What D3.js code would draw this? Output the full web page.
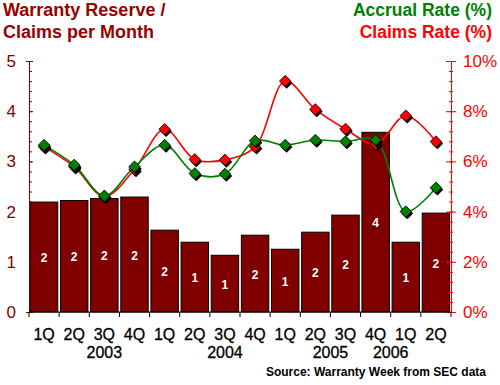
<!DOCTYPE html>
<html>
<head>
<meta charset="utf-8">
<script src="https://cdn.jsdelivr.net/npm/d3@7"></script>
<style>
    body { margin: 0; background: #fff; }
    svg { display: block; font-family: "Liberation Sans", Arial, sans-serif; }
</style>
</head>
<body>
<svg id="chart" width="500" height="385"></svg>
<script>
// data
const quarters= ["1Q","2Q","3Q","4Q","1Q","2Q","3Q","4Q","1Q","2Q","3Q","4Q","1Q","2Q"]
const years= ["2003","2004","2005","2006"]
const year_pos= [2.5, 6.5, 10, 12]   // where each year label sits, in category units
const reserve_months= [2.19, 2.22, 2.26, 2.29, 1.63, 1.39, 1.13, 1.53, 1.25, 1.59, 1.93, 3.58, 1.39, 1.97]
const accrual_rate= [6.65, 5.86, 4.63, 5.79, 6.65, 5.52, 5.50, 6.82, 6.65, 6.85, 6.79, 6.85, 4.00, 4.95]
const claims_rate= [6.58, 5.79, 4.60, 5.68, 7.28, 6.08, 6.06, 6.58, 9.20, 8.07, 7.29, 6.69, 7.82, 6.79]
const left_ticks= [0, 1, 2, 3, 4, 5]
const right_ticks= [0, 2, 4, 6, 8, 10]

const dark_red= "#800000"
const green= "#008000"
const red= "#ff0000"

const svg= d3.select("#chart")
const plot= {left: 29, right: 451, top: 61, bottom: 312}

let idx= d3.range(quarters.length)
let x= d3.scaleBand().domain(idx).range([plot.left, plot.right]).paddingInner(0.09).paddingOuter(0.045)
let step= (plot.right - plot.left)/quarters.length
let y_left= d3.scaleLinear().domain([0, 5]).range([plot.bottom, plot.top])
let y_right= d3.scaleLinear().domain([0, 10]).range([plot.bottom, plot.top])
let cx= i => x(i) + x.bandwidth()/2

// titles
let title= svg.append("g").attr("font-weight", "bold").attr("font-size", 18)
title.append("text").attr("x", 3).attr("y", 16).attr("fill", "#990000").text("Warranty Reserve /")
title.append("text").attr("x", 3).attr("y", 38).attr("fill", "#990000").text("Claims per Month")
title.append("text").attr("x", 492).attr("y", 16).attr("text-anchor", "end")
    .attr("font-size", 17.5).attr("fill", green).text("Accrual Rate (%)")
title.append("text").attr("x", 492).attr("y", 38).attr("text-anchor", "end")
    .attr("font-size", 17.5).attr("fill", red).text("Claims Rate (%)")

// bars
let bars= svg.append("g")
bars.selectAll("rect").data(reserve_months).join("rect")
    .attr("x", (d,i) => x(i))
    .attr("width", x.bandwidth())
    .attr("y", d => y_left(d))
    .attr("height", d => y_left(0) - y_left(d))
    .attr("fill", dark_red)
    .attr("stroke", "#000")
    .attr("stroke-width", 1)
bars.selectAll("text").data(reserve_months).join("text")
    .attr("x", (d,i) => cx(i))
    .attr("y", d => (y_left(d) + y_left(0))/2 + 5)
    .attr("text-anchor", "middle")
    .attr("fill", "#fff")
    .attr("font-weight", "bold")
    .attr("font-size", 12)
    .text(d => d3.format(".0f")(d))

// left axis (minor ticks, then labelled majors)
let left_axis= svg.append("g").attr("transform", `translate(${plot.left},0)`)
    .call(d3.axisLeft(y_left).tickValues(d3.range(0, 5.01, 0.2)).tickSize(3).tickFormat(""))
left_axis.selectAll(".tick line").attr("x2", 3).attr("stroke", dark_red)
left_axis.select(".domain").attr("stroke", dark_red)
let left_major= svg.append("g").attr("transform", `translate(${plot.left},0)`)
    .call(d3.axisLeft(y_left).tickValues(left_ticks).tickSize(6).tickPadding(7).tickFormat(d3.format("d")))
left_major.select(".domain").remove()
left_major.selectAll(".tick line").attr("x2", 4).attr("stroke", dark_red)
left_major.selectAll(".tick text").attr("fill", dark_red).attr("font-size", 17)

// right axis
let right_axis= svg.append("g").attr("transform", `translate(${plot.right},0)`)
    .call(d3.axisRight(y_right).tickValues(d3.range(0, 10.01, 0.4)).tickSize(2).tickFormat(""))
right_axis.selectAll(".tick line").attr("x1", -2).attr("stroke", red)
right_axis.select(".domain").attr("stroke", red)
let right_major= svg.append("g").attr("transform", `translate(${plot.right},0)`)
    .call(d3.axisRight(y_right).tickValues(right_ticks).tickSize(5).tickPadding(7).tickFormat(d => d + "%"))
right_major.select(".domain").remove()
right_major.selectAll(".tick line").attr("x1", -5).attr("stroke", red)
right_major.selectAll(".tick text").attr("fill", red).attr("font-size", 17)

// bottom axis: ticks between categories
let bottom= svg.append("g")
bottom.append("line").attr("x1", plot.left).attr("x2", plot.right)
    .attr("y1", plot.bottom).attr("y2", plot.bottom).attr("stroke", "#000")
bottom.selectAll("line.tick").data(d3.range(quarters.length + 1)).join("line")
    .attr("class", "tick")
    .attr("x1", i => plot.left + i*step).attr("x2", i => plot.left + i*step)
    .attr("y1", plot.bottom).attr("y2", plot.bottom + 5)
    .attr("stroke", "#000")
bottom.selectAll("text.q").data(quarters).join("text")
    .attr("class", "q")
    .attr("x", (d,i) => cx(i)).attr("y", 340)
    .attr("text-anchor", "middle").attr("font-size", 16).attr("fill", "#000")
    .attr("stroke", "#000").attr("stroke-width", 0.3)
    .text(d => d)
bottom.selectAll("text.yr").data(years).join("text")
    .attr("class", "yr")
    .attr("x", (d,i) => plot.left + year_pos[i]*step).attr("y", 358)
    .attr("text-anchor", "middle").attr("font-size", 16).attr("fill", "#000")
    .attr("stroke", "#000").attr("stroke-width", 0.3)
    .text(d => d)

// rate lines
let line= d3.line().x((d,i) => cx(i)).y(d => y_right(d)).curve(d3.curveCatmullRom.alpha(0.5))
let diamond= d3.symbol().type(d3.symbolDiamond2).size(85)

function draw_series(values, color){
    svg.append("path").attr("d", line(values)).attr("fill", "none")
        .attr("stroke", color).attr("stroke-width", 1.6)
}
function draw_markers(values, color){
    let g= svg.append("g")
    // drop shadow first
    g.selectAll("path.shadow").data(values).join("path")
        .attr("class", "shadow")
        .attr("d", diamond)
        .attr("transform", (d,i) => `translate(${cx(i)+1.5},${y_right(d)+2})`)
        .attr("fill", "#000")
    g.selectAll("path.mark").data(values).join("path")
        .attr("class", "mark")
        .attr("d", diamond)
        .attr("transform", (d,i) => `translate(${cx(i)},${y_right(d)})`)
        .attr("fill", color)
        .attr("stroke", "#000")
        .attr("stroke-width", 0.8)
}
draw_series(claims_rate, red)
draw_series(accrual_rate, green)
draw_markers(claims_rate, red)
draw_markers(accrual_rate, green)

// source
svg.append("text").attr("x", 486).attr("y", 376).attr("text-anchor", "end")
    .attr("font-weight", "bold").attr("font-size", 12).attr("fill", "#000")
    .text("Source: Warranty Week from SEC data")
</script>
</body>
</html>
